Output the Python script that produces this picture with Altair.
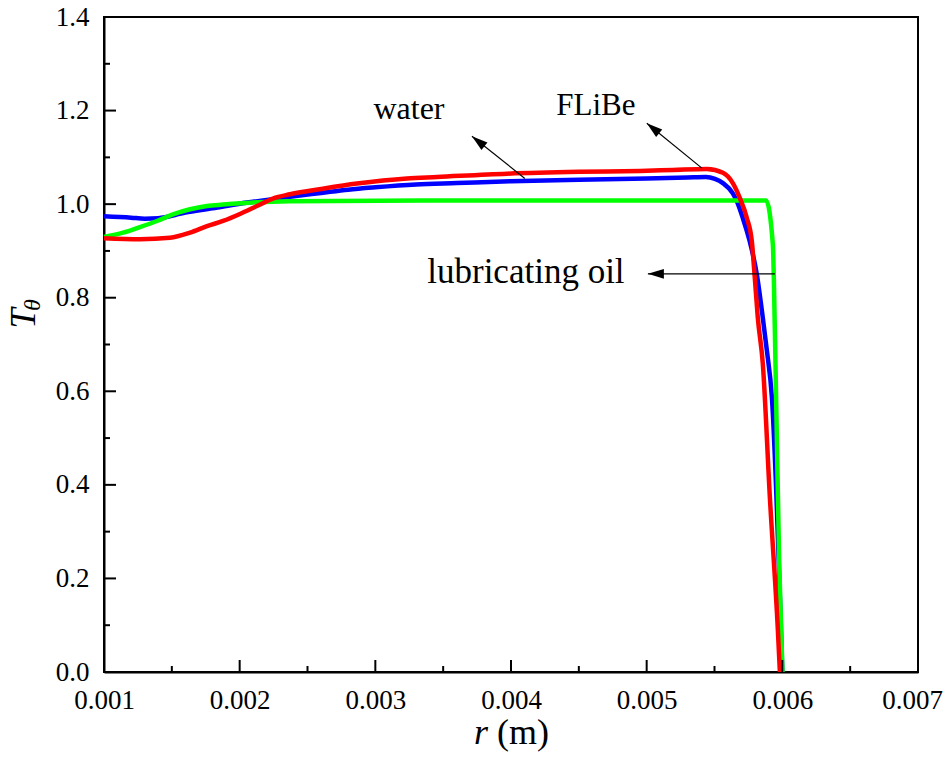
import altair as alt
import pandas as pd

# ---------------- data ----------------
water_r = [0.00100, 0.00120, 0.00130, 0.00140, 0.00160, 0.00180, 0.00200, 0.00220,
           0.00240, 0.00260, 0.00280, 0.00300, 0.00330, 0.00360, 0.00400, 0.00450,
           0.00500, 0.00530, 0.005436, 0.005503, 0.005562, 0.005635, 0.005665,
           0.005709, 0.005760, 0.005812, 0.005856, 0.005886, 0.005923, 0.006000]
water_T = [0.974, 0.971, 0.969, 0.970, 0.982, 0.991, 1.001, 1.009,
           1.017, 1.024, 1.031, 1.036, 1.042, 1.045, 1.049, 1.052,
           1.055, 1.057, 1.058, 1.054, 1.045, 1.023, 1.006,
           0.970, 0.920, 0.850, 0.757, 0.687, 0.587, 0.000]

flibe_r = [0.00100, 0.001265, 0.001486, 0.001634, 0.001759, 0.001877, 0.002002,
           0.002127, 0.002245, 0.002371, 0.002614, 0.002864, 0.003233, 0.003454,
           0.00397, 0.00450, 0.00495, 0.005193, 0.005444, 0.005562, 0.005635,
           0.005687, 0.005738, 0.005775, 0.005797, 0.005819, 0.005856, 0.005908,
           0.005967, 0.005982]
flibe_T = [0.927, 0.925, 0.928, 0.939, 0.953, 0.964, 0.979,
           0.996, 1.012, 1.021, 1.033, 1.044, 1.055, 1.058,
           1.065, 1.069, 1.071, 1.073, 1.075, 1.067, 1.045,
           1.013, 0.971, 0.921, 0.843, 0.758, 0.659, 0.374,
           0.090, 0.000]

oil_r = [0.00100, 0.00114, 0.001265, 0.00139, 0.001508, 0.001634, 0.001759,
         0.001877, 0.002127, 0.002371, 0.003351, 0.00450, 0.00588, 0.00593,
         0.005945, 0.005977, 0.006001]
oil_T = [0.930, 0.939, 0.951, 0.964, 0.978, 0.989, 0.996,
         0.999, 1.004, 1.006, 1.008, 1.008, 1.008, 0.914,
         0.730, 0.232, 0.000]

x_ticks = [0.001, 0.002, 0.003, 0.004, 0.005, 0.006, 0.007]
x_minor = [0.0015, 0.0025, 0.0035, 0.0045, 0.0055, 0.0065]
y_ticks = [0.0, 0.2, 0.4, 0.6, 0.8, 1.0, 1.2, 1.4]
y_minor = [0.1, 0.3, 0.5, 0.7, 0.9, 1.1, 1.3]

labels = ["water", "FLiBe", "lubricating oil"]
label_r = [0.003248, 0.004626, 0.00411]
label_T = [1.183, 1.190, 0.8316]
arrow_r1 = [0.004102, 0.005407, 0.005945]
arrow_T1 = [1.055, 1.077, 0.851]
arrow_r2 = [0.003712, 0.005001, 0.005009]
arrow_T2 = [1.145, 1.173, 0.851]

# ---------------- chart ----------------
W, H = 814, 655
FONT = "Liberation Serif"

xscale = alt.Scale(domain=[0.001, 0.007], nice=False, zero=False)
yscale = alt.Scale(domain=[0.0, 1.4], nice=False, zero=False)

xaxis = alt.Axis(values=x_ticks, format=".3f", labelFont=FONT, labelFontSize=27,
                 labelColor="black", labelPadding=15, ticks=False, tickSize=0,
                 domainColor="black", domainWidth=2, grid=False, labelFlush=False,
                 labelOverlap=False,
                 labelOffset=alt.condition("datum.value >= 0.0069", alt.value(-6), alt.value(0)))
yaxis = alt.Axis(values=y_ticks, format=".1f", labelFont=FONT, labelFontSize=27,
                 labelColor="black", labelPadding=15, ticks=False, tickSize=0,
                 domainColor="black", domainWidth=2, grid=False, labelFlush=False,
                 labelOverlap=False)

def curve(r, T, color):
    df = pd.DataFrame({"r": r, "T": T})
    return alt.Chart(df).mark_line(color=color, strokeWidth=4.5, interpolate="monotone").encode(
        x=alt.X("r:Q", scale=xscale, axis=xaxis, title=""),
        y=alt.Y("T:Q", scale=yscale, axis=yaxis, title=""),
    )

water = curve(water_r, water_T, "#0000ff")
oil = curve(oil_r, oil_T, "#00ff00")
flibe = curve(flibe_r, flibe_T, "#ff0000")

xmaj = alt.Chart(pd.DataFrame({"r": x_ticks[1:-1]})).mark_rule(color="black", strokeWidth=2).encode(
    x=alt.X("r:Q", title=""), y=alt.value(H), y2=alt.value(H - 12))
xmin = alt.Chart(pd.DataFrame({"r": x_minor})).mark_rule(color="black", strokeWidth=2).encode(
    x=alt.X("r:Q", title=""), y=alt.value(H), y2=alt.value(H - 6))
ymaj = alt.Chart(pd.DataFrame({"T": y_ticks[1:-1]})).mark_rule(color="black", strokeWidth=2).encode(
    y=alt.Y("T:Q", title=""), x=alt.value(0), x2=alt.value(12))
ymin = alt.Chart(pd.DataFrame({"T": y_minor})).mark_rule(color="black", strokeWidth=2).encode(
    y=alt.Y("T:Q", title=""), x=alt.value(0), x2=alt.value(6))

ann = pd.DataFrame({"label": labels, "r": label_r, "T": label_T,
                    "r1": arrow_r1, "T1": arrow_T1, "r2": arrow_r2, "T2": arrow_T2})

texts = []
for i, fs in enumerate([32, 31, 35]):
    texts.append(alt.Chart(ann.iloc[[i]]).mark_text(
        font=FONT, fontSize=fs, align="center", baseline="alphabetic", color="black").encode(
        x=alt.X("r:Q", title=""), y=alt.Y("T:Q", title=""), text="label:N"))

shafts = alt.Chart(ann).mark_rule(color="black", strokeWidth=1.2).encode(
    x=alt.X("r1:Q", title=""), y=alt.Y("T1:Q", title=""), x2="r2:Q", y2="T2:Q")

heads = []
for i, ang in enumerate([308.4, 309.3, 270]):
    heads.append(alt.Chart(ann.iloc[[i]]).mark_point(
        shape="M0,0 L0.3,1 L-0.3,1 Z", size=1024, filled=True, color="black",
        strokeWidth=0, opacity=1, angle=ang).encode(
        x=alt.X("r2:Q", title=""), y=alt.Y("T2:Q", title="")))

title_parts = pd.DataFrame({"t": ["T", "θ", "r", "(m)"]})

ytitle_T = alt.Chart(title_parts.iloc[[0]]).mark_text(
    font=FONT, fontSize=36, fontStyle="italic", angle=270, align="center",
    baseline="alphabetic", color="black").encode(
    x=alt.value(-69), y=alt.value(301.5), text="t:N")
ytitle_th = alt.Chart(title_parts.iloc[[1]]).mark_text(
    font=FONT, fontSize=24, fontStyle="italic", angle=270, align="center",
    baseline="alphabetic", color="black").encode(
    x=alt.value(-64), y=alt.value(288), text="t:N")
xtitle_r = alt.Chart(title_parts.iloc[[2]]).mark_text(
    font=FONT, fontSize=36, fontStyle="italic", align="left",
    baseline="alphabetic", color="black").encode(
    x=alt.value(370), y=alt.value(727), text="t:N")
xtitle_m = alt.Chart(title_parts.iloc[[3]]).mark_text(
    font=FONT, fontSize=36, align="left",
    baseline="alphabetic", color="black").encode(
    x=alt.value(393), y=alt.value(727), text="t:N")

chart = alt.layer(
    water, oil, flibe, xmaj, xmin, ymaj, ymin, shafts, *heads, *texts,
    ytitle_T, ytitle_th, xtitle_r, xtitle_m
).properties(
    width=W, height=H,
    autosize=alt.AutoSizeParams(type="none"),
    padding={"left": 96, "top": 9, "right": 25, "bottom": 84},
    background="white",
).configure_view(
    stroke="black", strokeWidth=2
).configure_axis(
    labelFont=FONT, labelFontSize=27, labelColor="black"
)

chart.save("out.html", embed_options={"renderer": "svg", "actions": False})
